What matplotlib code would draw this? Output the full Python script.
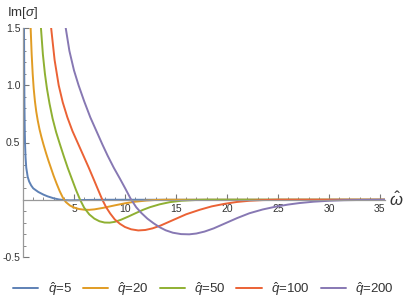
import matplotlib
matplotlib.use("Agg")
import matplotlib.pyplot as plt
from matplotlib.ticker import FixedLocator, NullFormatter

plt.rcParams['font.family'] = ['Liberation Sans', 'DejaVu Sans']
plt.rcParams['mathtext.fontset'] = 'custom'
plt.rcParams['mathtext.rm'] = 'Liberation Sans'
plt.rcParams['mathtext.it'] = 'Liberation Sans:italic'

labels = [r'$\hat{q}$=5', r'$\hat{q}$=20', r'$\hat{q}$=50', r'$\hat{q}$=100', r'$\hat{q}$=200']
colors = ['#5E81B5', '#E19C24', '#8FB032', '#EB6235', '#8778B3']

blue_w = [0.1, 0.12, 0.14, 0.17, 0.2, 0.25, 0.32, 0.46, 0.6, 0.8, 1.0, 1.2, 1.5, 2.0, 2.4, 3.0, 3.5, 4.0, 4.6, 5.3, 6.0, 7.0, 8.0, 35.5]
blue_v = [1.5, 1.15, 0.85, 0.62, 0.49, 0.37, 0.28, 0.2, 0.16, 0.125, 0.1, 0.087, 0.068, 0.045, 0.03, 0.013, 0.003, -0.003, -0.005, -0.004, -0.002, -0.001, 0.0, 0.0]

orange_w = [0.75, 0.85, 0.95, 1.05, 1.17, 1.3, 1.45, 1.62, 1.8, 2.0, 2.25, 2.5, 2.75, 3.0, 3.3, 3.6, 3.9, 4.2, 4.6, 5.0, 5.5, 6.0, 6.5, 7.0, 7.85, 9.0, 10.0, 11.0, 12.1, 13.0, 14.0, 35.5]
orange_v = [1.5, 1.27, 1.1, 0.97, 0.86, 0.77, 0.69, 0.615, 0.55, 0.485, 0.41, 0.34, 0.275, 0.21, 0.14, 0.075, 0.02, -0.02, -0.05, -0.068, -0.081, -0.087, -0.088, -0.084, -0.071, -0.049, -0.031, -0.017, -0.007, -0.002, 0.0, 0.0]

green_w = [1.76, 1.95, 2.15, 2.35, 2.6, 2.9, 3.25, 3.6, 4.0, 4.4, 4.8, 5.2, 5.6, 6.0, 6.5, 7.0, 7.5, 8.0, 8.5, 9.0, 9.6, 10.3, 11.1, 11.8, 12.45, 13.4, 14.4, 15.5, 17.0, 18.0, 35.5]
green_v = [1.5, 1.27, 1.1, 0.97, 0.84, 0.71, 0.59, 0.49, 0.38, 0.275, 0.18, 0.085, 0.0, -0.07, -0.128, -0.165, -0.188, -0.199, -0.2, -0.193, -0.175, -0.148, -0.115, -0.087, -0.065, -0.04, -0.021, -0.009, -0.002, 0.0, 0.0]

red_w = [2.76, 3.1, 3.5, 3.9, 4.35, 4.85, 5.4, 5.95, 6.45, 6.95, 7.35, 7.78, 8.15, 8.55, 9.0, 9.5, 10.0, 10.6, 11.3, 12.0, 12.7, 13.5, 14.9, 16.0, 17.35, 18.5, 19.8, 21.0, 22.2, 23.5, 25.0, 35.5]
red_v = [1.5, 1.22, 1.0, 0.85, 0.72, 0.6, 0.49, 0.38, 0.28, 0.175, 0.09, 0.0, -0.065, -0.12, -0.172, -0.21, -0.238, -0.258, -0.268, -0.264, -0.25, -0.225, -0.17, -0.127, -0.087, -0.058, -0.035, -0.019, -0.009, -0.003, 0.0, 0.0]

purple_w = [4.19, 4.55, 5.0, 5.45, 6.0, 6.6, 7.2, 7.8, 8.3, 8.9, 9.5, 10.05, 10.55, 11.1, 11.6, 12.2, 12.8, 13.4, 14.0, 14.7, 15.5, 16.3, 17.0, 17.8, 18.7, 19.8, 21.0, 22.2, 23.5, 24.8, 26.0, 27.1, 28.5, 30.0, 31.5, 33.0, 35.5]
purple_v = [1.5, 1.3, 1.13, 1.0, 0.86, 0.72, 0.6, 0.48, 0.385, 0.28, 0.185, 0.095, 0.01, -0.065, -0.115, -0.165, -0.205, -0.24, -0.267, -0.288, -0.3, -0.302, -0.295, -0.278, -0.25, -0.207, -0.16, -0.118, -0.085, -0.06, -0.042, -0.029, -0.017, -0.009, -0.004, -0.002, 0.0]

series = [(blue_w, blue_v), (orange_w, orange_v), (green_w, green_v), (red_w, red_v), (purple_w, purple_v)]

x_major = [5, 10, 15, 20, 25, 30, 35]
x_labels = ['5', '10', '15', '20', '25', '30', '35']
y_major = [-0.5, 0.5, 1.0, 1.5]
y_labels = ['-0.5', '0.5', '1.0', '1.5']

fig = plt.figure(figsize=(4.07, 3.01), dpi=100)
ax = fig.add_axes([23/407, 44/301, 362/407, 229/301])

for (w, v), c, lab in zip(series, colors, labels):
    ax.plot(w, v, color=c, lw=1.4, label=lab, solid_capstyle='round', solid_joinstyle='round')

ax.set_xlim(0, 35.5)
ax.set_ylim(-0.5, 1.5)

for s in ['top', 'right']:
    ax.spines[s].set_visible(False)
ax.spines['bottom'].set_position(('data', 0))
ax.spines['left'].set_position(('data', 0))
for s in ['bottom', 'left']:
    ax.spines[s].set_color('#999999')
    ax.spines[s].set_linewidth(0.9)

ax.xaxis.set_major_locator(FixedLocator(x_major))
ax.set_xticklabels(x_labels)
ax.xaxis.set_minor_locator(FixedLocator([i for i in range(1, 36) if i % 5 != 0]))
ax.yaxis.set_major_locator(FixedLocator(y_major))
ax.set_yticklabels(y_labels)
ax.yaxis.set_minor_locator(FixedLocator([round(-0.5 + 0.1 * i, 1) for i in range(21) if (i % 5) != 0]))
ax.xaxis.set_minor_formatter(NullFormatter())
ax.yaxis.set_minor_formatter(NullFormatter())

ax.tick_params(which='major', direction='in', length=4, width=0.8, color='#777777',
               labelsize=7.5, labelcolor='#333333', pad=2)
ax.tick_params(which='minor', direction='in', length=2, width=0.6, color='#777777')
ax.tick_params(axis='x', which='major', pad=3)

fig.text(7/407, 1 - 13/301, r'Im[$\mathit{\sigma}$]', fontsize=9.5, color='#333333', va='center', ha='left')
fig.text(389/407, 1 - 200/301, r'$\hat{\omega}$', fontsize=12, color='#333333', va='center', ha='left')

fig.legend(loc='center', bbox_to_anchor=(0.5, 1 - 289/301), ncol=5, frameon=False,
           fontsize=9.5, handlelength=1.9, handletextpad=0.7, columnspacing=0.85,
           labelcolor='#333333')

fig.savefig('out.png', dpi=100)
